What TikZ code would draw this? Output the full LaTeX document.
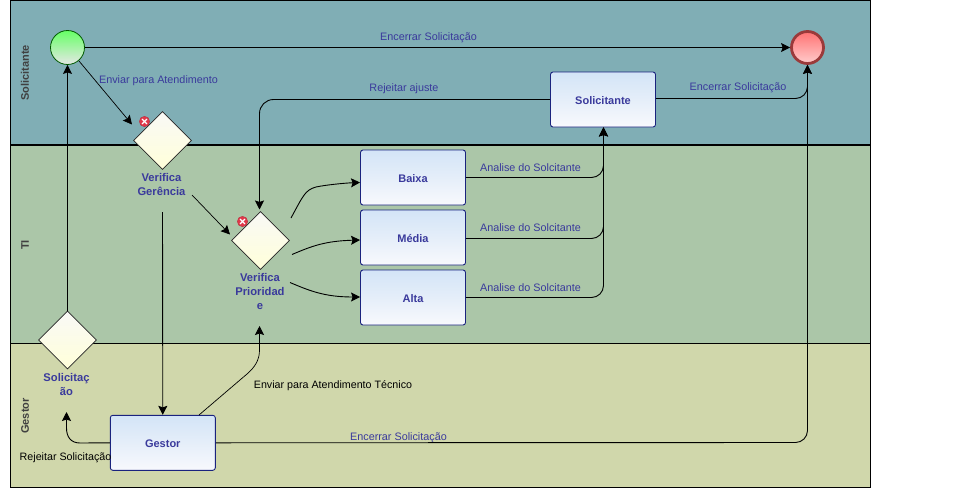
\documentclass[tikz,border=0pt]{standalone}
\usepackage{fontspec}
\setmainfont{Liberation Sans}
\usetikzlibrary{shapes.geometric,arrows.meta}
\definecolor{laneA}{HTML}{80AEB5}
\definecolor{laneB}{HTML}{ABC6A8}
\definecolor{laneC}{HTML}{D0D7AB}
\definecolor{txtblue}{HTML}{3A3A9C}
\definecolor{boxedge}{HTML}{1A237E}
\definecolor{endedge}{HTML}{9B3A3A}
\tikzset{
  taskbox/.style={draw=boxedge,line width=0.9pt,rounded corners=2.5pt,top color=boxTop,bottom color=boxBot,middle color=boxMid,
    minimum width=105pt,minimum height=55pt,inner sep=0pt,font=\fontsize{11}{12}\selectfont\bfseries,text=txtblue},
  gate/.style={diamond,aspect=1,draw=black!85,line width=0.7pt,top color=gateTop,bottom color=gateBot,minimum width=58pt,minimum height=58pt,inner sep=0pt},
  gatelabel/.style={align=center,font=\fontsize{11.2}{14}\selectfont\bfseries,text=txtblue,inner sep=0pt},
  flowlabel/.style={font=\fontsize{10.8}{12}\selectfont,text=txtblue,inner sep=0pt},
  blacklabel/.style={font=\fontsize{10.7}{12}\selectfont,text=black,inner sep=0pt},
  lanelabel/.style={rotate=90,font=\fontsize{11}{12}\selectfont\bfseries,text=black!75,inner sep=0pt},
  flow/.style={draw=black,line width=0.9pt,-{Stealth[length=9pt,width=9pt,inset=1.5pt]}},
  errmark/.style={circle,fill=errred,draw=errred!80!black,line width=0.3pt,minimum size=10.5pt,inner sep=0pt},
  boxtext/.style={font=\fontsize{11}{12}\selectfont\bfseries,text=txtblue,inner sep=0pt},
}
\definecolor{boxTop}{HTML}{D3E4F7}
\definecolor{boxMid}{HTML}{E5EEF9}
\definecolor{boxBot}{HTML}{F8F9FD}
\definecolor{gateTop}{HTML}{F9F9F6}
\definecolor{gateBot}{HTML}{FFFFD9}
\definecolor{errred}{HTML}{E0384A}
\begin{document}
\begin{tikzpicture}[x=1pt,y=-1pt]
\useasboundingbox (0,0) rectangle (971,498);
\fill[white] (0,0) rectangle (971,498);
% lanes
\fill[laneA] (10.5,0.5) rectangle (870.5,144.5);
\fill[laneB] (10.5,144.5) rectangle (870.5,343.5);
\fill[laneC] (10.5,343.5) rectangle (870.5,487.5);
\draw[black,line width=2pt] (10.5,144.5) -- (870.5,144.5);
\draw[black,line width=0.9pt] (10.5,343.5) -- (870.5,343.5);
\draw[black,line width=0.9pt] (10.5,0.5) rectangle (870.5,487.5);
\node[lanelabel] (laneSol) at (25,73) {Solicitante};
\node[lanelabel] (laneTI) at (25,245) {TI};
\node[lanelabel] (laneGes) at (25,416) {Gestor};
% events
\node[circle,draw=black!30!green!50!black,line width=0.8pt,top color=green!60!white,bottom color=green!10!black!10!white,minimum size=34pt,inner sep=0pt] (start) at (67.5,47.5) {};
\node[circle,draw=endedge,line width=2.8pt,top color=red!55!white,bottom color=red!20!white,minimum size=32pt,inner sep=0pt] (finish) at (807.5,47.5) {};
% gateways
\node[gate] (g1) at (162.5,140.5) {};
\node[gate] (g2) at (260.5,240.5) {};
\node[gate] (g3) at (67.5,340) {};
\node[gatelabel] (g1l) at (161.5,184.5) {Verifica\\Gerência};
\node[gatelabel] (g2l) at (260,291.5) {Verifica\\Prioridad\\e};
\node[gatelabel] (g3l) at (66.5,384.5) {Solicitaç\\ão};
% error marks
\node[errmark] (e1) at (144.5,121.5) {};
\node[errmark] (e2) at (242.5,221.5) {};
\foreach \e in {e1,e2}{
  \draw[white,line width=1.3pt] (\e.center) ++(-2.4,-2.4) -- ++(4.8,4.8);
  \draw[white,line width=1.3pt] (\e.center) ++(2.4,-2.4) -- ++(-4.8,4.8);
}
% tasks
\node[taskbox] (sol) at (603,99.5) {};
\node[taskbox] (baixa) at (413,177.5) {};
\node[taskbox] (media) at (413,237.5) {};
\node[taskbox] (alta) at (413,297.5) {};
\node[taskbox] (gestor) at (162.8,442.8) {};
\node[boxtext] (solT) at (603,100.2) {Solicitante};
\node[boxtext] (baixaT) at (413,178.2) {Baixa};
\node[boxtext] (mediaT) at (413,238.2) {Média};
\node[boxtext] (altaT) at (413,298.2) {Alta};
\node[boxtext] (gestorT) at (162.8,443.5) {Gestor};
% labels
\node[flowlabel] (l1) at (428.5,37.8) {Encerrar Solicitação};
\node[flowlabel] (l2) at (158.5,80.8) {Enviar para Atendimento};
\node[flowlabel] (l3) at (404,88.3) {Rejeitar ajuste};
\node[flowlabel] (l4) at (738,87.8) {Encerrar Solicitação};
\node[flowlabel] (l5) at (530.5,167.8) {Analise do Solcitante};
\node[flowlabel] (l6) at (530.5,227.8) {Analise do Solcitante};
\node[flowlabel] (l7) at (530.5,287.8) {Analise do Solcitante};
\node[flowlabel] (l8) at (398.5,437.8) {Encerrar Solicitação};
\node[blacklabel] (l9) at (333,385.8) {Enviar para Atendimento Técnico};
\node[blacklabel] (l10) at (65.5,457.8) {Rejeitar Solicitação};
% free ends
\coordinate (a1) at (79,61);
\coordinate (a2) at (132,124.5);
\coordinate (b1) at (192,195);
\coordinate (b2) at (230,234.5);
\coordinate (c1) at (162.5,212);
\coordinate (d1) at (259.5,209.5);
\coordinate (e3) at (291,218);
\coordinate (e4) at (292,254.5);
\coordinate (e5) at (290,282.5);
\coordinate (f1) at (199,415);
\coordinate (f2) at (259.5,326);
\coordinate (h1) at (66.5,412);
% connectors
\draw[flow] (start.east) -- (finish.west);
\draw[flow,line width=0.7pt] (a1) -- (a2);
\draw[flow,rounded corners=14pt] (sol.west) -- (259.5,99.5) -- (d1);
\draw[flow,rounded corners=12pt] (sol.east |- 0,98.5) -- (807.5,98.5) -- (finish.south);
\draw[flow] (g3.north) -- (start.south);
\draw[flow,line width=0.7pt] (b1) -- (b2);
\draw[flow] (c1) -- (gestor.north);
\draw[flow] (e3) .. controls (303,196) and (305,190) .. (316,187) .. controls (325,185) and (345,183) .. (baixa.west |- 0,182.5);
\draw[flow] (e4) .. controls (312,246) and (325,241) .. (media.west |- 0,240);
\draw[flow] (e5) .. controls (310,291) and (325,297) .. (alta.west |- 0,297);
\draw[flow,rounded corners=12pt] (baixa.east) -- (603.5,177.5) -- (sol.south -| 603.5,0);
\draw[flow,rounded corners=12pt] (media.east |- 0,238.5) -- (603.5,238.5) -- (sol.south -| 603.5,0);
\draw[flow,rounded corners=12pt] (alta.east) -- (603.5,297.5) -- (sol.south -| 603.5,0);
\draw[flow,rounded corners=12pt] (gestor.east) -- (807.5,442.5) -- (finish.south);
\draw[flow,line width=0.7pt] (f1) -- (247,374) .. controls (255,367) and (259.5,360) .. (259.5,350) -- (f2);
\draw[flow] (gestor.west) -- (80,443) .. controls (71,443) and (66.5,437) .. (66.5,428) -- (h1);
\end{tikzpicture}
\end{document}
